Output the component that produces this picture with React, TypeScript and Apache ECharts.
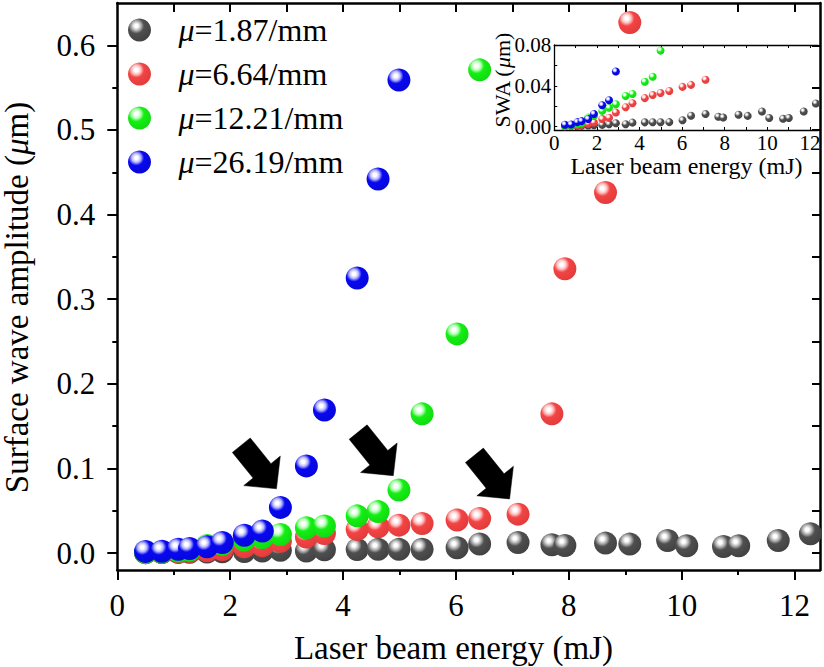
import React, { useEffect, useRef } from 'react';
import * as echarts from 'echarts';

// ---------------- data ----------------
const energy = [0.50, 0.79, 1.08, 1.28, 1.59, 1.86, 2.25, 2.57, 2.89, 3.35, 3.67, 4.25, 4.62, 4.99, 5.40, 6.02, 6.42, 7.10, 7.70, 7.93, 8.65, 9.08, 9.75, 10.09, 10.74, 11.01, 11.71, 12.28];

const amp187 = [0.0005, 0.0006, 0.0008, 0.001, 0.0012, 0.0015, 0.0018, 0.0024, 0.0034, 0.0025, 0.004, 0.0043, 0.0044, 0.0044, 0.0045, 0.0063, 0.0108, 0.0125, 0.0098, 0.009, 0.0118, 0.0106, 0.0149, 0.0086, 0.0078, 0.0086, 0.0149, 0.0228];
const amp664 = [0.0005, 0.0008, 0.0012, 0.0018, 0.0028, 0.0042, 0.0075, 0.0088, 0.014, 0.019, 0.023, 0.028, 0.031, 0.033, 0.035, 0.039, 0.041, 0.046, 0.1645, 0.336, 0.426, 0.627];
const amp1221 = [0.0008, 0.0012, 0.0025, 0.0035, 0.009, 0.0105, 0.0155, 0.0185, 0.022, 0.030, 0.032, 0.044, 0.049, 0.0745, 0.1645, 0.259, 0.571];
const amp2619 = [0.002, 0.0022, 0.0045, 0.0055, 0.0075, 0.0125, 0.021, 0.026, 0.054, 0.103, 0.169, 0.325, 0.442, 0.559];

const muValues = ['1.87', '6.64', '12.21', '26.19'];
const seriesNames = muValues.map((m) => 'μ=' + m + '/mm');
const seriesAmps = [amp187, amp664, amp1221, amp2619];
const baseColors = ['#4f4f4f', '#f24444', '#14ee14', '#0808f0'];
const lightColors = ['#b8b8b8', '#ffc4c4', '#b8ffb8', '#b8b8ff'];
const edgeColors = ['#404040', '#e03a3a', '#10d810', '#0606d8'];

const xMajorTicks = [0, 2, 4, 6, 8, 10, 12];
const xMinorTicks = [1, 3, 5, 7, 9, 11];
const xTopTicks = [1, 2, 3, 4, 5, 6, 7, 8, 9, 10, 11, 12];
const yMajorTicks = [0, 0.1, 0.2, 0.3, 0.4, 0.5, 0.6];
const yMinorTicks = [0.05, 0.15, 0.25, 0.35, 0.45, 0.55];
const yRightTicks = [0, 0.05, 0.1, 0.15, 0.2, 0.25, 0.3, 0.35, 0.4, 0.45, 0.5, 0.55, 0.6];

const insetXTicks = [1, 2, 3, 4, 5, 6, 7, 8, 9, 10, 11, 12];
const insetXLabels = [0, 2, 4, 6, 8, 10, 12];
const insetYTicks = [0, 0.02, 0.04, 0.06, 0.08];
const insetYLabels = [0, 0.04, 0.08];

// arrow tips in data coordinates (main plot)
const arrowTips = [[2.82, 0.076], [4.89, 0.0915], [6.95, 0.064]];

const FONT_NAME = 'Liberation Serif';
const FONT = '"Liberation Serif", "Times New Roman", serif';

function sphere(i: number) {
  return new echarts.graphic.RadialGradient(0.36, 0.32, 0.75, [
    { offset: 0, color: '#ffffff' },
    { offset: 0.1, color: '#ffffff' },
    { offset: 0.26, color: lightColors[i] },
    { offset: 0.45, color: baseColors[i] },
    { offset: 1, color: edgeColors[i] },
  ]);
}

function arrowPoints(tip: number[]) {
  const L = 56, H = 23, w = 23, W = 47;
  const dx = 0.628, dy = 0.778;
  const nx = -dy, ny = dx;
  const T = [tip[0] - L * dx, tip[1] - L * dy];
  const B = [tip[0] - H * dx, tip[1] - H * dy];
  return [
    [T[0] + (nx * w) / 2, T[1] + (ny * w) / 2],
    [B[0] + (nx * w) / 2, B[1] + (ny * w) / 2],
    [B[0] + (nx * W) / 2, B[1] + (ny * W) / 2],
    [tip[0], tip[1]],
    [B[0] - (nx * W) / 2, B[1] - (ny * W) / 2],
    [B[0] - (nx * w) / 2, B[1] - (ny * w) / 2],
    [T[0] - (nx * w) / 2, T[1] - (ny * w) / 2],
  ];
}

// vertical title made of plain / italic pieces, reading bottom-to-top, centred at (cx, cy)
function verticalTitle(pieces: { t: string; italic: boolean }[], cx: number, cy: number, size: number) {
  const ctx = document.createElement('canvas').getContext('2d') as CanvasRenderingContext2D;
  const widths = pieces.map((p) => {
    ctx.font = (p.italic ? 'italic ' : '') + size + 'px "' + FONT_NAME + '"';
    return ctx.measureText(p.t).width;
  });
  const total = widths.reduce((a, b) => a + b, 0);
  let y = cy + total / 2;
  return pieces.map((p, i) => {
    const el = {
      type: 'text',
      x: cx,
      y,
      rotation: Math.PI / 2,
      z: 10,
      style: {
        text: p.t,
        fontFamily: FONT,
        fontSize: size,
        fontStyle: p.italic ? 'italic' : 'normal',
        fill: '#000',
        align: 'left',
        verticalAlign: 'middle',
      },
    };
    y -= widths[i];
    return el;
  });
}

const lineStyle = { color: '#000', width: 2.5 };

export default function App() {
  const ref = useRef<HTMLDivElement>(null);
  useEffect(() => {
    if (!ref.current) return;
    const chart = echarts.init(ref.current, null, { renderer: 'svg' });

    const mainSeries = seriesNames.map((name, i) => ({
      name,
      type: 'scatter',
      xAxisIndex: 0,
      yAxisIndex: 0,
      symbol: 'circle',
      symbolSize: 23,
      itemStyle: { color: sphere(i), opacity: 1 },
      data: seriesAmps[i].map((v, k) => [energy[k], v]),
      z: 2,
    }));
    const insetSeries = seriesNames.map((name, i) => ({
      name,
      type: 'scatter',
      xAxisIndex: 3,
      yAxisIndex: 3,
      symbol: 'circle',
      symbolSize: 8,
      clip: true,
      itemStyle: { color: sphere(i), opacity: 1 },
      data: seriesAmps[i].map((v, k) => [energy[k], v]),
      z: 3,
    }));

    const option: any = {
      animation: false,
      backgroundColor: '#ffffff',
      grid: [
        { left: 117.3, right: 4, top: 3, bottom: 97 },
        { left: 554.3, right: 6, top: 45, bottom: 537 },
      ],
      legend: {
        data: seriesNames,
        orient: 'vertical',
        left: 123,
        top: 9,
        itemWidth: 46,
        itemHeight: 23,
        itemGap: 12,
        icon: 'circle',
        selectedMode: false,
        formatter: (name: string) => {
          const i = seriesNames.indexOf(name);
          return '{i|μ}{t|=' + muValues[i] + '/mm}';
        },
        textStyle: {
          color: '#000',
          fontFamily: FONT,
          fontSize: 32,
          padding: [0, 0, 0, 11],
          rich: {
            i: { fontFamily: FONT, fontSize: 32, fontStyle: 'italic', color: '#000', lineHeight: 32 },
            t: { fontFamily: FONT, fontSize: 32, color: '#000', lineHeight: 32 },
          },
        },
      },
      xAxis: [
        {
          type: 'value', gridIndex: 0, position: 'bottom', min: 0, max: 12.45,
          axisLine: { show: true, onZero: false, lineStyle },
          axisTick: { show: true, inside: false, length: 10, customValues: xMajorTicks, lineStyle: { color: '#000', width: 2 } },
          axisLabel: { show: true, customValues: xMajorTicks, margin: 20, color: '#000', fontFamily: FONT, fontSize: 31, formatter: (v: number) => String(Math.round(v)) },
          splitLine: { show: false },
        },
        {
          type: 'value', gridIndex: 0, position: 'bottom', min: 0, max: 12.45,
          axisLine: { show: false, onZero: false },
          axisTick: { show: true, inside: false, length: 5, customValues: xMinorTicks, lineStyle: { color: '#000', width: 2 } },
          axisLabel: { show: false },
          splitLine: { show: false },
        },
        {
          type: 'value', gridIndex: 0, position: 'top', min: 0, max: 12.45,
          axisLine: { show: true, onZero: false, lineStyle },
          axisTick: { show: true, inside: true, length: 9, customValues: xTopTicks, lineStyle: { color: '#000', width: 2 } },
          axisLabel: { show: false },
          splitLine: { show: false },
        },
        {
          type: 'value', gridIndex: 1, position: 'bottom', min: 0, max: 12.38,
          axisLine: { show: true, onZero: false, lineStyle: { color: '#000', width: 1.3 } },
          axisTick: { show: true, inside: true, length: 3, customValues: insetXTicks, lineStyle: { color: '#000', width: 1 } },
          axisLabel: { show: true, customValues: insetXLabels, margin: 2, color: '#000', fontFamily: FONT, fontSize: 21, formatter: (v: number) => String(Math.round(v)) },
          splitLine: { show: false },
        },
        {
          type: 'value', gridIndex: 1, position: 'top', min: 0, max: 12.38,
          axisLine: { show: true, onZero: false, lineStyle: { color: '#000', width: 1.3 } },
          axisTick: { show: true, inside: true, length: 3, customValues: insetXTicks, lineStyle: { color: '#000', width: 1 } },
          axisLabel: { show: false },
          splitLine: { show: false },
        },
      ],
      yAxis: [
        {
          type: 'value', gridIndex: 0, position: 'left', min: -0.02, max: 0.65,
          axisLine: { show: true, onZero: false, lineStyle },
          axisTick: { show: true, inside: false, length: 10, customValues: yMajorTicks, lineStyle: { color: '#000', width: 2 } },
          axisLabel: { show: true, customValues: yMajorTicks, margin: 22, color: '#000', fontFamily: FONT, fontSize: 31, formatter: (v: number) => v.toFixed(1) },
          splitLine: { show: false },
        },
        {
          type: 'value', gridIndex: 0, position: 'left', min: -0.02, max: 0.65,
          axisLine: { show: false, onZero: false },
          axisTick: { show: true, inside: false, length: 5, customValues: yMinorTicks, lineStyle: { color: '#000', width: 2 } },
          axisLabel: { show: false },
          splitLine: { show: false },
        },
        {
          type: 'value', gridIndex: 0, position: 'right', min: -0.02, max: 0.65,
          axisLine: { show: true, onZero: false, lineStyle },
          axisTick: { show: true, inside: true, length: 8, customValues: yRightTicks, lineStyle: { color: '#000', width: 2 } },
          axisLabel: { show: false },
          splitLine: { show: false },
        },
        {
          type: 'value', gridIndex: 1, position: 'left', min: -0.0032, max: 0.08,
          axisLine: { show: true, onZero: false, lineStyle: { color: '#000', width: 1.3 } },
          axisTick: { show: true, inside: true, length: 3, customValues: insetYTicks, lineStyle: { color: '#000', width: 1 } },
          axisLabel: { show: true, customValues: insetYLabels, margin: 3, color: '#000', fontFamily: FONT, fontSize: 21, formatter: (v: number) => v.toFixed(2) },
          splitLine: { show: false },
        },
      ],
      series: [...mainSeries, ...insetSeries],
    };
    chart.setOption(option);

    const arrows = arrowTips.map((t) => {
      const p = chart.convertToPixel({ xAxisIndex: 0, yAxisIndex: 0 }, t) as number[];
      return {
        type: 'polygon',
        shape: { points: arrowPoints(p) },
        style: { fill: '#000', stroke: '#000', lineWidth: 0.5 },
        z: 10,
      };
    });

    const titles: any[] = [
      {
        type: 'text', x: 453.5, y: 648, z: 10,
        style: { text: 'Laser beam energy (mJ)', fontFamily: FONT, fontSize: 33, fill: '#000', align: 'center', verticalAlign: 'middle' },
      },
      ...verticalTitle(
        [
          { t: 'Surface wave amplitude (', italic: false },
          { t: 'μ', italic: true },
          { t: 'm)', italic: false },
        ],
        17, 297.5, 33,
      ),
      {
        type: 'text', x: 686.5, y: 166, z: 10,
        style: { text: 'Laser beam energy (mJ)', fontFamily: FONT, fontSize: 24, fill: '#000', align: 'center', verticalAlign: 'middle' },
      },
      ...verticalTitle(
        [
          { t: 'SWA (', italic: false },
          { t: 'μ', italic: true },
          { t: 'm)', italic: false },
        ],
        502, 80, 22,
      ),
    ];

    chart.setOption({ graphic: [...arrows, ...titles] });

    return () => chart.dispose();
  }, []);

  return (
    <div
      ref={ref}
      style={{ position: 'fixed', left: 0, top: 0, width: 824, height: 667, background: '#fff' }}
    />
  );
}
